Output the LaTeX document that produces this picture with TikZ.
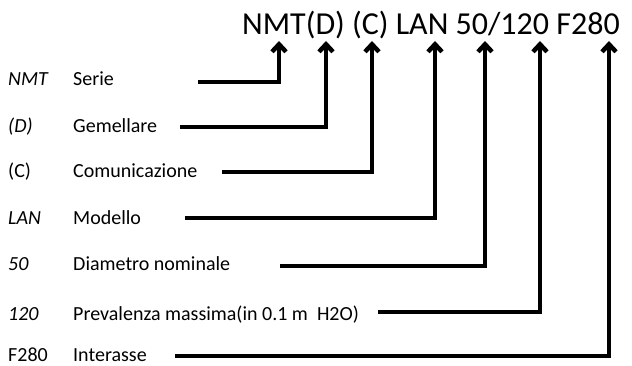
\documentclass[tikz,border=0pt]{standalone}
\usepackage{fontspec}
\setmainfont{Carlito}
\usetikzlibrary{arrows.meta}

\begin{document}
\begin{tikzpicture}[x=1pt,y=-1pt,>={Straight Barb[length=7.5pt,width=14pt]},
  code/.style={anchor=base west,inner sep=0pt,font=\fontsize{20}{24}\selectfont\itshape},
  descr/.style={anchor=base west,inner sep=0pt,font=\fontsize{20}{24}\selectfont},
  elbow/.style={to path={-| (\tikztotarget)}}]

\useasboundingbox (0,0) rectangle (632,366);

\node[anchor=base west,inner sep=0pt,font=\fontsize{32}{36}\selectfont] (title) at (242,35) {NMT(D) (C) LAN 50/120 F280};

% left column
\node[code]   (cNMT)  at (8,86)   {NMT};
\node[descr]  (dNMT)  at (73,86)  {Serie};
\node[code]   (cD)    at (8,133)  {(D)};
\node[descr]  (dD)    at (73,133) {Gemellare};
\node[descr]  (cC)    at (8,178)  {(C)};
\node[descr]  (dC)    at (73,178) {Comunicazione};
\node[code]   (cLAN)  at (8,225)  {LAN};
\node[descr]  (dLAN)  at (73,225) {Modello};
\node[code]   (c50)   at (8,271)  {50};
\node[descr]  (d50)   at (73,271) {Diametro nominale};
\node[code]   (c120)  at (8,320)  {120};
\node[descr]  (d120)  at (73,320) {Prevalenza massima(in 0.1 m\ \ H2O)};
\node[descr]  (cF)    at (8,361)  {F280};
\node[descr]  (dF)    at (73,361) {Interasse};

% line starts
\coordinate (sNMT) at (198,82);
\coordinate (sD)   at (180,127);
\coordinate (sC)   at (222,172);
\coordinate (sLAN) at (185,218);
\coordinate (s50)  at (280,266);
\coordinate (s120) at (378,312);
\coordinate (sF)   at (175,356);

% arrow tips under the code
\coordinate (tNMT) at (279,41);
\coordinate (tD)   at (326,41);
\coordinate (tC)   at (372,41);
\coordinate (tLAN) at (435,41);
\coordinate (t50)  at (485,41);
\coordinate (t120) at (540,41);
\coordinate (tF)   at (609,41);

\path[->,line width=4.5pt]
  (sNMT) edge[elbow] (tNMT)
  (sD)   edge[elbow] (tD)
  (sC)   edge[elbow] (tC)
  (sLAN) edge[elbow] (tLAN)
  (s50)  edge[elbow] (t50)
  (s120) edge[elbow] (t120)
  (sF)   edge[elbow] (tF);

\end{tikzpicture}
\end{document}
